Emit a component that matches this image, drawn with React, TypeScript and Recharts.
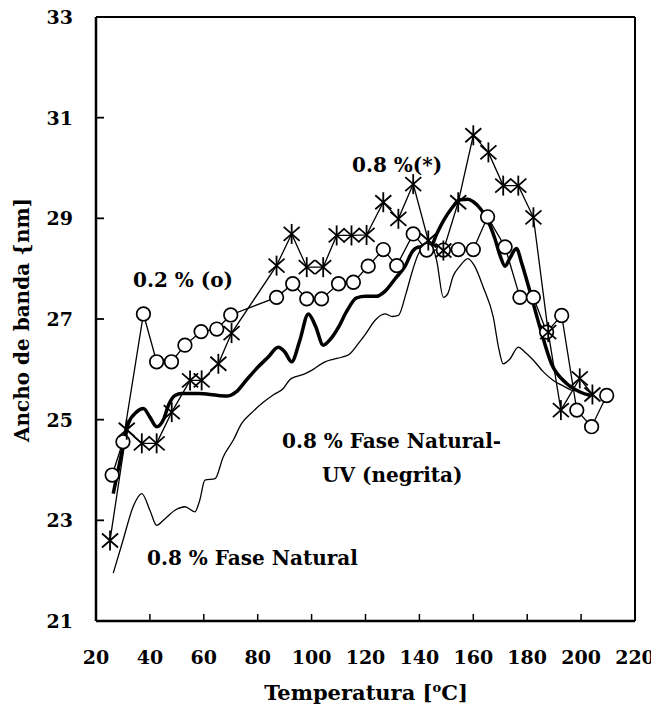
import React from 'react';
import { LineChart, Line, XAxis, YAxis, ReferenceLine, Customized } from 'recharts';

// 0.2 % (o) series
const circleT = [26, 30, 37.6, 42.5, 48, 53, 59, 64.8, 70, 87, 93, 98.2, 103.7, 110, 115.5, 121, 126.6, 131.6, 137.7, 142.7, 148.9, 154.4, 160, 165.3, 171.8, 177.3, 182.3, 187.2, 192.8, 198.4, 203.9, 209.5];
const circleV = [23.9, 24.56, 27.1, 26.15, 26.15, 26.48, 26.75, 26.8, 27.08, 27.43, 27.7, 27.4, 27.4, 27.7, 27.73, 28.05, 28.38, 28.06, 28.69, 28.37, 28.37, 28.38, 28.38, 29.03, 28.43, 27.43, 27.43, 26.74, 27.07, 25.19, 24.86, 25.48];

// 0.8 % (*) series
const starT = [25.2, 31.4, 37, 42.5, 48.1, 54.9, 59.2, 65.4, 70.3, 87, 92.6, 98.2, 104.3, 109.3, 114.8, 120.4, 126.6, 132.2, 137.7, 143.3, 148.9, 154.4, 160, 165.6, 171.1, 176.7, 182.3, 187.8, 192.5, 199.5, 204.2];
const starV = [22.6, 24.8, 24.53, 24.53, 25.15, 25.78, 25.78, 26.11, 26.72, 28.06, 28.69, 28.03, 28.03, 28.66, 28.66, 28.67, 29.32, 28.99, 29.68, 28.56, 28.36, 29.32, 30.65, 30.31, 29.65, 29.65, 29.02, 26.74, 25.19, 25.82, 25.5];

// 0.8 % Fase Natural-UV (bold)
const uvT = [26.4, 29, 32, 35, 37.6, 40, 42.5, 45, 47, 49.3, 51.8, 58, 65.4, 69, 72, 76, 80.2, 84, 87.6, 90, 92.6, 95.5, 98.8, 101.5, 104.3, 107, 110, 113, 116.7, 120, 124, 127.2, 131, 134.7, 137.5, 140, 144, 146.5, 149, 152, 155, 158, 160, 162.5, 165, 168, 170, 171.8, 173.5, 176, 178, 181, 184.7, 189, 194.6, 199.6, 203.5];
const uvV = [23.53, 24.2, 24.92, 25.15, 25.22, 25.05, 24.86, 25.0, 25.3, 25.48, 25.52, 25.52, 25.48, 25.47, 25.55, 25.8, 26.05, 26.25, 26.44, 26.35, 26.15, 26.55, 27.1, 26.85, 26.48, 26.6, 26.84, 27.15, 27.42, 27.45, 27.45, 27.55, 27.8, 28.05, 28.35, 28.43, 28.43, 28.7, 28.96, 29.2, 29.37, 29.38, 29.33, 29.2, 29.0, 28.6, 28.25, 28.05, 28.2, 28.4, 28.1, 27.55, 26.84, 26.11, 25.72, 25.55, 25.48];

// 0.8 % Fase Natural (thin)
const natT = [26.4, 30, 34, 37, 40, 42.5, 45, 49.3, 53, 56.7, 58.5, 60.4, 64.2, 67.2, 70.9, 74, 78, 81.5, 86, 89.5, 92, 93.8, 97, 100, 105, 108, 111.2, 114, 117.3, 120, 123.5, 127.2, 130, 132.2, 135, 137.1, 139.6, 142, 144.3, 146.4, 148.9, 150.5, 152.5, 155, 158, 160.5, 163.7, 167.4, 169.5, 171.1, 173.5, 176.7, 179, 182.3, 186, 189.7, 193, 196.5];
const natV = [21.95, 22.6, 23.3, 23.53, 23.2, 22.9, 23.0, 23.2, 23.27, 23.17, 23.4, 23.8, 23.83, 24.26, 24.59, 24.92, 25.15, 25.32, 25.5, 25.62, 25.8, 25.85, 25.9, 25.98, 26.15, 26.2, 26.24, 26.3, 26.51, 26.7, 26.97, 27.1, 27.05, 27.07, 27.5, 27.9, 28.29, 28.45, 28.49, 28.16, 27.43, 27.5, 27.85, 28.05, 28.2, 28.05, 27.63, 27.04, 26.4, 26.11, 26.2, 26.44, 26.35, 26.18, 25.95, 25.78, 25.68, 25.58];

const xTicks = [20, 40, 60, 80, 100, 120, 140, 160, 180, 200, 220];
const yTicks = [21, 23, 25, 27, 29, 31, 33];

const toPts = (t: number[], v: number[]) => t.map((x, i) => ({ t: x, v: v[i] }));
const circleData = toPts(circleT, circleV);
const starData = toPts(starT, starV);
const uvData = toPts(uvT, uvV);
const natData = toPts(natT, natV);

const FONT = '"DejaVu Serif", serif';
const PL = 96;
const PB = 621;

function YTick(props: any) {
  const { y, payload } = props;
  const v = payload.value;
  return (
    <g>
      {v > 21 && v < 33 && <line x1={PL} x2={PL + 8} y1={y} y2={y} stroke="#000" strokeWidth={1.8} />}
      <text x={73} y={y} dy={7} textAnchor="end" fontFamily={FONT} fontWeight="bold" fontSize={19} fill="#000">{v}</text>
    </g>
  );
}

function XTick(props: any) {
  const { x, payload } = props;
  const v = payload.value;
  return (
    <g>
      {v > 20 && v < 220 && <line x1={x} x2={x} y1={PB} y2={PB - 7} stroke="#000" strokeWidth={1.5} />}
      <text x={x} y={664} textAnchor="middle" fontFamily={FONT} fontWeight="bold" fontSize={19} fill="#000">{v}</text>
    </g>
  );
}

function StarDot(props: any) {
  const { cx, cy } = props;
  if (cx == null || cy == null) return <g />;
  return (
    <g stroke="#000" strokeWidth={1.8}>
      <line x1={cx} y1={cy - 10} x2={cx} y2={cy + 10} />
      <line x1={cx - 8} y1={cy - 7} x2={cx + 8} y2={cy + 7} />
      <line x1={cx - 8} y1={cy + 7} x2={cx + 8} y2={cy - 7} />
    </g>
  );
}

function Texts() {
  const st = { fontFamily: FONT, fontWeight: 'bold' as const, fontSize: 20, fill: '#000' };
  return (
    <g>
      <text x={133} y={287} {...st}>0.2 % (o)</text>
      <text x={352} y={172} {...st}>0.8 %(*)</text>
      <text x={282} y={448} {...st}>0.8 % Fase Natural-</text>
      <text x={322} y={482} {...st}>UV (negrita)</text>
      <text x={147} y={565} {...st}>0.8 % Fase Natural</text>
      <text x={366} y={700} textAnchor="middle" fontFamily={FONT} fontWeight="bold" fontSize={21} fill="#000">
        Temperatura [<tspan dy={-8} fontSize={13}>o</tspan><tspan dy={8}>C]</tspan>
      </text>
      <text transform="translate(29,320) rotate(-90)" textAnchor="middle" fontFamily={FONT} fontWeight="bold" fontSize={20} fill="#000">
        Ancho de banda {'{'}nm]
      </text>
    </g>
  );
}

export default function App() {
  return (
    <div style={{ background: '#fff', margin: -8, width: 659, height: 718 }}>
      <LineChart width={659} height={718} margin={{ top: 17, right: 24, left: 0, bottom: 0 }}>
        <XAxis
          type="number"
          dataKey="t"
          domain={[20, 220]}
          ticks={xTicks}
          allowDataOverflow
          height={97}
          tickSize={0}
          tickMargin={10}
          axisLine={{ stroke: '#000', strokeWidth: 2.5 }}
          tickLine={false}
          tick={<XTick />}
          interval={0}
        />
        <YAxis
          type="number"
          domain={[21, 33]}
          ticks={yTicks}
          allowDataOverflow
          width={96}
          tickSize={0}
          tickMargin={23}
          axisLine={{ stroke: '#000', strokeWidth: 2.5 }}
          tickLine={false}
          tick={<YTick />}
          interval={0}
        />
        <ReferenceLine y={33} stroke="#000" strokeWidth={2} />
        <ReferenceLine x={220} stroke="#000" strokeWidth={2} />
        <Line data={natData} dataKey="v" type="monotone" stroke="#000" strokeWidth={1.3} dot={false} isAnimationActive={false} />
        <Line data={uvData} dataKey="v" type="monotone" stroke="#000" strokeWidth={3.5} dot={false} isAnimationActive={false} />
        <Line data={circleData} dataKey="v" type="linear" stroke="#000" strokeWidth={1.3} dot={{ r: 6.8, fill: '#fff', stroke: '#000', strokeWidth: 1.7 }} isAnimationActive={false} />
        <Line data={starData} dataKey="v" type="linear" stroke="#000" strokeWidth={1.3} dot={(p: any) => <StarDot key={`s${p.index}`} {...p} />} isAnimationActive={false} />
        <Customized component={Texts} />
      </LineChart>
    </div>
  );
}
